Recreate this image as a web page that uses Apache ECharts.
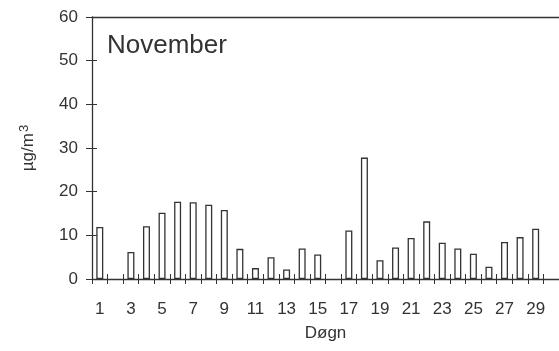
<!DOCTYPE html>
<html>
<head>
<meta charset="utf-8">
<script src="https://cdn.jsdelivr.net/npm/echarts@6/dist/echarts.min.js"></script>
<style>
html,body{margin:0;padding:0;background:#fff;}
#chart{width:559px;height:351px;}
</style>
</head>
<body>
<div id="chart"></div>
<script>
var days = ['1','2','3','4','5','6','7','8','9','10','11','12','13','14','15','16','17','18','19','20','21','22','23','24','25','26','27','28','29','30'];
var values = [11.9, null, 6.2, 12.1, 15.2, 17.7, 17.6, 17.0, 15.8, 6.9, 2.5, 5.0, 2.2, 7.0, 5.6, null, 11.1, 27.8, 4.3, 7.2, 9.4, 13.2, 8.3, 7.0, 5.8, 2.8, 8.5, 9.6, 11.5, null];
var yTicks = [0, 10, 20, 30, 40, 50, 60];
var titleText = 'November';
var xName = 'Døgn';
var yNameBase = 'µg/m';
var yNameSup = '3';

var font = 'Liberation Sans, Arial, Helvetica, sans-serif';
var ink = '#333';
var chart = echarts.init(document.getElementById('chart'), null, {renderer: 'canvas'});
chart.setOption({
  animation: false,
  backgroundColor: '#fff',
  title: {
    text: titleText, left: 102, top: 28,
    textStyle: {fontFamily: font, fontSize: 26, fontWeight: 'normal', color: ink}
  },
  grid: {left: 92, top: 17, width: 468, bottom: 72, containLabel: false},
  xAxis: [
    {
      type: 'category', data: days, position: 'bottom', boundaryGap: true,
      name: xName, nameLocation: 'middle', nameGap: 46,
      nameTextStyle: {fontFamily: font, fontSize: 17, color: ink},
      axisLine: {show: true, lineStyle: {color: ink, width: 1.3}},
      axisTick: {show: true, inside: false, length: 5, alignWithLabel: false, interval: 0, lineStyle: {color: ink}},
      axisLabel: {interval: 1, margin: 22, fontFamily: font, fontSize: 17, color: ink},
      splitLine: {show: false}
    },
    {
      type: 'category', data: days, position: 'bottom', boundaryGap: true,
      axisLine: {show: false},
      axisTick: {show: true, inside: true, length: 5, interval: 0, lineStyle: {color: ink}},
      axisLabel: {show: false},
      splitLine: {show: false}
    },
    {
      type: 'category', data: days, position: 'top', boundaryGap: true,
      axisLine: {show: true, lineStyle: {color: ink, width: 1.3}},
      axisTick: {show: false},
      axisLabel: {show: false},
      splitLine: {show: false}
    }
  ],
  yAxis: [
    {
      type: 'value', min: yTicks[0], max: yTicks[yTicks.length - 1], interval: 10,
      name: '{a|' + yNameBase + '}{b|' + yNameSup + '}', nameLocation: 'middle', nameGap: 53, nameRotate: 90,
      nameTextStyle: {
        fontFamily: font, fontSize: 17, color: ink,
        rich: {
          a: {fontFamily: font, fontSize: 17, color: ink},
          b: {fontFamily: font, fontSize: 13, color: ink, verticalAlign: 'top', padding: [0, 0, 8, 1]}
        }
      },
      axisLine: {show: true, lineStyle: {color: ink, width: 1.3}},
      axisTick: {show: true, inside: false, length: 6, lineStyle: {color: ink}},
      axisLabel: {margin: 14, fontFamily: font, fontSize: 17, color: ink},
      splitLine: {show: false}
    },
    {
      type: 'value', min: yTicks[0], max: yTicks[yTicks.length - 1], interval: 10, position: 'left',
      axisLine: {show: false},
      axisTick: {show: true, inside: true, length: 5, lineStyle: {color: ink}},
      axisLabel: {show: false},
      splitLine: {show: false}
    }
  ],
  series: [{
    type: 'bar', xAxisIndex: 0, yAxisIndex: 0,
    data: values, barWidth: 7,
    itemStyle: {color: '#fff', borderColor: ink, borderWidth: 1.3}
  }]
});
</script>
</body>
</html>
